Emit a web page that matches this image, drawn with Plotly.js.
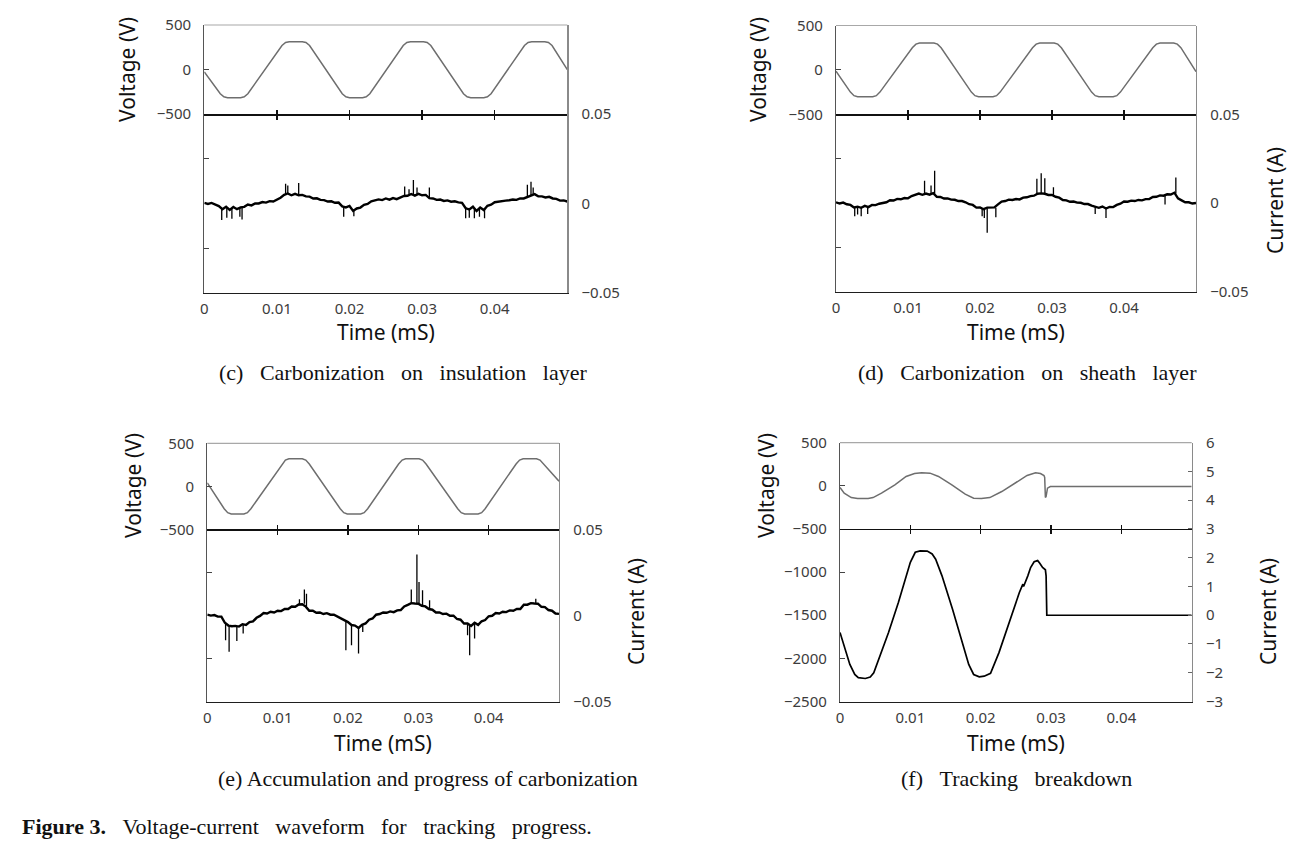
<!DOCTYPE html>
<html><head><meta charset="utf-8">
<script src="https://cdn.plot.ly/plotly-3.0.1.min.js"></script>
<style>html,body{margin:0;padding:0;background:#fff}#chart{width:1298px;height:846px}</style>
</head><body><div id="chart"></div>
<script>
// ---------------- DATA ----------------
const timeTickVals = [0, 0.01, 0.02, 0.03, 0.04];
const timeTickText = ['0', '0.01', '0.02', '0.03', '0.04'];

// common sampling times for current traces (c),(d),(e)
const timeGrid = [0,0.0005,0.001,0.0015,0.002,0.0025,0.003,0.0035,0.004,0.0045,0.005,0.0055,0.006,0.0065,0.007,0.0075,0.008,0.0085,0.009,0.0095,0.01,0.0105,0.011,0.0115,0.012,0.0125,0.013,0.0135,0.014,0.0145,0.015,0.0155,0.016,0.0165,0.017,0.0175,0.018,0.0185,0.019,0.0195,0.02,0.0205,0.021,0.0215,0.022,0.0225,0.023,0.0235,0.024,0.0245,0.025,0.0255,0.026,0.0265,0.027,0.0275,0.028,0.0285,0.029,0.0295,0.03,0.0305,0.031,0.0315,0.032,0.0325,0.033,0.0335,0.034,0.0345,0.035,0.0355,0.036,0.0365,0.037,0.0375,0.038,0.0385,0.039,0.0395,0.04,0.0405,0.041,0.0415,0.042,0.0425,0.043,0.0435,0.044,0.0445,0.045,0.0455,0.046,0.0465,0.047,0.0475,0.048,0.0485,0.049,0.0495,0.05];

// (c) Carbonization on insulation layer
const voltC_t = [0,0.0022,0.0027,0.0032,0.0050,0.0055,0.0060,0.0107,0.0112,0.0117,0.0135,0.0140,0.0145,0.0190,0.0195,0.0200,0.0218,0.0223,0.0228,0.0274,0.0279,0.0284,0.0302,0.0307,0.0312,0.0357,0.0362,0.0367,0.0385,0.0390,0.0395,0.0441,0.0446,0.0451,0.0469,0.0474,0.0479,0.0500];
const voltC_v = [-25,-270,-305,-315,-315,-305,-270,270,305,313,313,305,270,-270,-305,-315,-315,-305,-270,270,305,313,313,305,270,-270,-305,-315,-315,-305,-270,270,305,313,313,305,270,0];
const curC_mA = [0.3,-0.3,0.3,-0.4,-1.5,-3.2,-1.8,-3.6,-2.0,-3.2,-2.2,-1.9,-0.6,-1.1,0.0,0.0,0.8,0.5,1.3,1.1,2.2,3.2,4.8,5.6,4.6,5.4,4.6,4.8,4.0,3.8,2.8,2.9,2.0,1.9,1.1,1.2,0.4,0.5,-1.6,-2.2,-1.4,-4.2,-2.8,-2.3,-0.8,-0.3,1.2,1.6,2.3,1.9,2.8,2.1,3.0,2.4,3.2,4.2,4.3,5.3,4.4,5.4,4.6,4.8,3.0,2.8,2.0,2.2,1.4,1.7,1.0,1.2,0.6,0.3,-2.7,-3.3,-1.8,-4.2,-2.3,-3.7,-1.3,-0.7,0.7,1.0,1.7,1.6,1.8,2.2,2.0,2.8,2.8,3.7,4.3,5.2,4.0,4.0,3.4,3.7,2.8,2.6,1.6,1.7,1.1];
const spikeC_t    = [0.0024,0.0031,0.0038,0.0049,0.0052,0.0112,0.0115,0.0130,0.0192,0.0206,0.0276,0.0282,0.0288,0.0293,0.0310,0.0360,0.0365,0.0372,0.0379,0.0386,0.0445,0.0450,0.0453];
const spikeC_from = [-2.5,-2.0,-2.5,-2.5,-2.2,5.0,5.5,4.8,-1.5,-3.5,4.0,4.5,5.0,4.8,3.5,-2.0,-3.0,-2.5,-3.0,-3.0,3.5,4.5,4.8];
const spikeC_to   = [-9.3,-8.0,-8.5,-7.5,-9.0,11.0,10.0,11.5,-7.4,-7.2,9.5,8.0,13.2,9.0,9.0,-8.3,-8.0,-8.3,-7.5,-8.3,10.5,12.2,9.0];

// (d) Carbonization on sheath layer
const voltD_t = [0,0.0020,0.0025,0.0030,0.0051,0.0056,0.0061,0.0106,0.0111,0.0116,0.0136,0.0141,0.0146,0.0188,0.0193,0.0198,0.0218,0.0223,0.0228,0.0273,0.0278,0.0283,0.0303,0.0308,0.0313,0.0355,0.0360,0.0365,0.0385,0.0390,0.0395,0.0440,0.0445,0.0450,0.0469,0.0474,0.0479,0.0500];
const voltD_v = [-15,-250,-290,-303,-303,-290,-250,250,290,303,303,290,250,-250,-290,-303,-303,-290,-250,250,290,303,303,290,250,-250,-290,-303,-303,-290,-250,250,290,303,303,290,250,-20];
const curD_mA = [0.5,-0.2,0.3,-0.6,-1.0,-2.4,-2.0,-2.6,-1.5,-2.2,-1.0,-1.1,-0.3,0.2,0.5,1.6,1.5,2.4,2.2,2.9,2.7,4.0,4.5,5.4,4.7,5.4,4.8,5.6,3.6,3.5,2.6,2.7,2.0,1.9,1.2,1.2,0.5,-0.6,-1.0,-2.5,-2.4,-3.4,-2.5,-2.6,-2.4,-0.7,0.9,1.2,2.0,1.8,2.3,2.1,3.1,3.3,4.0,4.2,5.3,5.5,5.3,4.6,4.6,3.6,3.1,1.8,1.6,0.8,0.9,0.3,0.2,-0.5,-0.5,-1.4,-1.8,-2.6,-1.9,-3.0,-2.1,-2.2,-1.0,-0.3,0.9,0.8,1.4,1.2,1.8,1.6,2.3,2.3,3.5,3.6,4.4,4.2,5.0,4.9,5.9,2.7,1.6,0.5,0.5,-0.2,0.1];
const spikeD_t    = [0.0026,0.0030,0.0035,0.0044,0.0123,0.0132,0.0137,0.0203,0.0206,0.0210,0.0222,0.0279,0.0285,0.0290,0.0302,0.0360,0.0375,0.0457,0.0472];
const spikeD_from = [-2.2,-2.2,-2.2,-1.8,5.0,5.1,5.3,-3.0,-3.0,-2.8,-2.6,5.0,5.5,5.0,4.2,-2.0,-2.7,4.4,5.5];
const spikeD_to   = [-7.4,-6.4,-7.4,-6.1,12.6,10.0,18.2,-7.4,-8.3,-16.7,-7.9,13.7,16.9,14.0,8.9,-6.1,-8.3,-0.8,14.5];

// (e) Accumulation and progress of carbonization
const voltE_t = [0,0.0024,0.0029,0.0034,0.0052,0.0057,0.0062,0.0106,0.0111,0.0116,0.0135,0.0140,0.0145,0.0189,0.0194,0.0199,0.0218,0.0223,0.0228,0.0272,0.0277,0.0282,0.0301,0.0306,0.0311,0.0356,0.0361,0.0366,0.0385,0.0390,0.0395,0.0439,0.0444,0.0449,0.0468,0.0473,0.0478,0.0500];
const voltE_v = [40,-260,-305,-320,-320,-305,-260,260,305,320,320,305,260,-260,-305,-320,-320,-305,-260,260,305,320,320,305,260,-260,-305,-320,-320,-305,-260,260,305,320,320,305,260,60];
const curE_mA = [0.6,0.0,0.3,-0.6,-0.6,-4.2,-5.8,-6.2,-6.0,-6.4,-5.0,-5.5,-3.8,-3.4,-1.3,-0.2,1.5,1.2,2.2,1.8,2.8,2.6,3.8,3.8,5.3,5.1,6.4,6.6,5.2,2.8,2.8,1.6,1.8,0.9,1.4,0.5,0.5,-0.7,-1.4,-3.0,-3.8,-5.5,-5.8,-7.2,-5.4,-4.6,-2.4,-1.7,0.5,0.9,1.8,1.6,2.4,2.0,3.0,3.2,5.3,6.2,7.2,7.0,6.9,5.7,5.3,3.8,3.4,1.8,1.8,0.9,1.1,-0.1,-0.1,-2.0,-2.4,-4.6,-4.6,-6.0,-4.2,-5.4,-3.3,-2.6,-0.4,-0.1,1.5,1.2,2.2,2.0,3.0,2.8,3.8,3.8,6.3,6.3,7.2,7.0,6.9,5.1,4.9,3.2,2.8,1.2,1.0];
const spikeE_t    = [0.0026,0.0031,0.0042,0.0051,0.0131,0.0138,0.0141,0.0197,0.0205,0.0215,0.0221,0.0290,0.0298,0.0301,0.0306,0.0316,0.0370,0.0373,0.0380,0.0467];
const spikeE_from = [-4.5,-6.0,-6.2,-5.5,6.0,6.8,5.5,-2.7,-5.0,-6.9,-5.8,6.9,7.2,7.0,6.2,4.1,-5.0,-5.6,-4.6,7.3];
const spikeE_to   = [-14.3,-21.0,-14.7,-10.4,9.5,15.1,12.7,-20.1,-17.2,-22.0,-9.5,15.1,35.5,19.5,14.7,8.9,-11.4,-23.0,-13.3,9.8];

// (f) Tracking breakdown
const voltF_t = [0,0.0006,0.0016,0.0025,0.0040,0.0047,0.0059,0.0078,0.0094,0.0106,0.0116,0.0128,0.0140,0.0159,0.0178,0.0190,0.0201,0.0213,0.0230,0.0249,0.0266,0.0278,0.0285,0.0290,0.0291,0.0292,0.0293,0.0295,0.0299,0.0500];
const voltF_v = [-19,-85,-136,-147,-147,-136,-85,12,109,143,151,147,109,12,-97,-143,-147,-136,-66,31,120,151,143,120,97,-136,-124,-27,-8,-8];
const curF_t = [0,0.0007,0.0014,0.0021,0.0026,0.0036,0.0043,0.0048,0.0055,0.0069,0.0083,0.0093,0.0100,0.0107,0.0114,0.0124,0.0131,0.0136,0.0145,0.0160,0.0174,0.0183,0.0190,0.0198,0.0205,0.0214,0.0226,0.0240,0.0255,0.0260,0.0261,0.0267,0.0271,0.0276,0.0281,0.0284,0.0288,0.0292,0.0293,0.0294,0.0500];
const curF_A = [-0.6,-1.19,-1.71,-2.06,-2.17,-2.2,-2.15,-2.0,-1.53,-0.6,0.44,1.26,1.84,2.19,2.24,2.23,2.13,1.95,1.37,0.21,-0.95,-1.71,-2.06,-2.14,-2.12,-2.02,-1.3,-0.26,0.79,1.08,1.0,1.37,1.66,1.86,1.9,1.81,1.66,1.58,1.37,0,0];

const S = '\u00a0\u00a0\u00a0';
const captionTexts = ['(c)'+S+'Carbonization'+S+'on'+S+'insulation'+S+'layer', '(d)'+S+'Carbonization'+S+'on'+S+'sheath'+S+'layer',
                      '(e) Accumulation and progress of carbonization', '(f)'+S+'Tracking'+S+'breakdown'];
const figureCaption = '<b>Figure 3.</b>'+S+'Voltage-current'+S+'waveform'+S+'for'+S+'tracking'+S+'progress.';

// ---------------- LAYOUT CONFIG ----------------
const W = 1298, H = 846;
const sans = 'Noto Sans, DejaVu Sans, sans-serif';
const serif = 'Liberation Serif, Times New Roman, serif';
const tickFont = {family: sans, size: 15, color: '#3c3c3c'};

const panels = [
  {box:[204.3,25,567.3,292.7], vt:voltC_t, vv:voltC_v, ct:timeGrid, cv:curC_mA, cs:0.001,
   sk:[spikeC_t,spikeC_from,spikeC_to],
   yLvals:[500,0,-500], yLtext:['500','0','\u2212500'],
   yR:{range:[-0.05,0.1], vals:[0.05,0,-0.05], text:['0.05','0','\u22120.05'], ticks:''},
   vTitle:[127,70], cTitle:null, tTitle:[386,332], cap:[403,372]},
  {box:[836,25.5,1196,292], vt:voltD_t, vv:voltD_v, ct:timeGrid, cv:curD_mA, cs:0.001,
   sk:[spikeD_t,spikeD_from,spikeD_to],
   yLvals:[500,0,-500], yLtext:['500','0','\u2212500'],
   yR:{range:[-0.05,0.1], vals:[0.05,0,-0.05], text:['0.05','0','\u22120.05'], ticks:''},
   vTitle:[758,70], cTitle:[1275,201], tTitle:[1016,332], cap:[1027,372]},
  {box:[207.3,443.3,559,701.7], vt:voltE_t, vv:voltE_v, ct:timeGrid, cv:curE_mA, cs:0.001,
   sk:[spikeE_t,spikeE_from,spikeE_to],
   yLvals:[500,0,-500], yLtext:['500','0','\u2212500'],
   yR:{range:[-0.05,0.1], vals:[0.05,0,-0.05], text:['0.05','0','\u22120.05'], ticks:''},
   vTitle:[133,486], cTitle:[636,612], tTitle:[383,743], cap:[428,778]},
  {box:[840,442.7,1191.7,701.5], vt:voltF_t, vv:voltF_v, ct:curF_t, cv:curF_A, cs:1,
   sk:null,
   yLvals:[500,0,-500,-1000,-1500,-2000,-2500], yLtext:['500','0','\u2212500','\u22121000','\u22121500','\u22122000','\u22122500'],
   yR:{range:[-3,6], vals:[6,5,4,3,2,1,0,-1,-2,-3], text:['6','5','4','3','2','1','0','\u22121','\u22122','\u22123'], ticks:'inside'},
   vTitle:[766,486], cTitle:[1268,612], tTitle:[1016,743], cap:[1016,778]}
];

const id = n => (n === 1 ? '' : String(n));
const layout = {width:W, height:H, margin:{l:0,r:0,t:0,b:0}, paper_bgcolor:'#fff', plot_bgcolor:'rgba(0,0,0,0)',
  showlegend:false, annotations:[], shapes:[]};
const traces = [];
const VRANGE = [-2500, 500];

panels.forEach((P, i) => {
  const nB = 3*i+1, nM1 = 3*i+2, nM2 = 3*i+3;
  const nL = 3*i+1, nR = 3*i+2, nT = 3*i+3;
  const xd = [P.box[0]/W, P.box[2]/W];
  const yd = [1 - P.box[3]/H, 1 - P.box[1]/H];
  const mid = yd[0] + (yd[1]-yd[0]) * ((-500 - VRANGE[0]) / (VRANGE[1]-VRANGE[0]));
  const xB = 'x'+id(nB), yL = 'y'+id(nL);
  const common = {showgrid:false, zeroline:false, fixedrange:true};

  layout['xaxis'+id(nB)] = Object.assign({domain:xd, range:[0,0.05], anchor:yL,
    tickmode:'array', tickvals:timeTickVals, ticktext:timeTickText, ticks:'',
    showline:true, linecolor:'#1e1e1e', linewidth:1.3, tickfont:tickFont, ticklabelstandoff:2}, common);
  const midAx = {overlaying:xB, anchor:'free', position:mid, range:[0,0.05],
    tickmode:'array', tickvals:timeTickVals.slice(1), showticklabels:false,
    ticklen:4, tickwidth:1.3, tickcolor:'#111'};
  layout['xaxis'+id(nM1)] = Object.assign({}, midAx, {ticks:'outside', showline:true, linecolor:'#111', linewidth:1.3}, common);
  layout['xaxis'+id(nM2)] = Object.assign({}, midAx, {ticks:'inside', showline:false}, common);

  layout['yaxis'+id(nL)] = Object.assign({domain:yd, range:VRANGE, anchor:xB,
    tickmode:'array', tickvals:P.yLvals, ticktext:P.yLtext, ticks:'',
    showline:true, linecolor:'#555', linewidth:1.2, tickfont:tickFont, ticklabelstandoff:9}, common);
  layout['yaxis'+id(nR)] = Object.assign({overlaying:yL, side:'right', anchor:xB, range:P.yR.range,
    tickmode:'array', tickvals:P.yR.vals, ticktext:P.yR.text, ticks:P.yR.ticks, ticklen:4, tickcolor:'#666',
    showline:true, linecolor:'#8a8a8a', linewidth:1.2, tickfont:tickFont, ticklabelstandoff:10}, common);
  layout['yaxis'+id(nT)] = Object.assign({overlaying:yL, side:'left', anchor:xB, range:VRANGE,
    tickmode:'array', tickvals:[0,-1000,-2000], ticks:'inside', ticklen:5, tickcolor:'#444',
    showticklabels:false, showline:false}, common);

  // top spine of the panel frame
  layout.shapes.push({type:'line', xref:xB+' domain', yref:yL+' domain', x0:0, x1:1, y0:1, y1:1,
    line:{color:'#a8a8a8', width:1.2}});

  // dummy traces so the helper axes get drawn
  traces.push({x:[null], y:[null], xaxis:'x'+id(nM1), yaxis:yL, mode:'lines', hoverinfo:'skip'});
  traces.push({x:[null], y:[null], xaxis:'x'+id(nM2), yaxis:yL, mode:'lines', hoverinfo:'skip'});
  traces.push({x:[null], y:[null], xaxis:xB, yaxis:'y'+id(nT), mode:'lines', hoverinfo:'skip'});

  // voltage
  traces.push({x:P.vt, y:P.vv, xaxis:xB, yaxis:yL, mode:'lines', line:{color:'#6e6e6e', width:1.5}, hoverinfo:'skip'});
  // current
  traces.push({x:P.ct, y:P.cv.map(v => v*P.cs), xaxis:xB, yaxis:'y'+id(nR), mode:'lines',
    line:{color:'#000', width:P.cs===1 ? 1.7 : 2.4}, hoverinfo:'skip'});
  // spikes
  if (P.sk) {
    const sx = [], sy = [];
    P.sk[0].forEach((t, k) => { sx.push(t, t, null); sy.push(P.sk[1][k]*P.cs, P.sk[2][k]*P.cs, null); });
    traces.push({x:sx, y:sy, xaxis:xB, yaxis:'y'+id(nR), mode:'lines', line:{color:'#000', width:1.3}, hoverinfo:'skip'});
  }

  const ann = (txt, p, opts) => layout.annotations.push(Object.assign({text:txt, xref:'paper', yref:'paper',
    x:p[0]/W, y:1-p[1]/H, xanchor:'center', yanchor:'middle', showarrow:false}, opts));
  ann('Voltage (V)', P.vTitle, {textangle:-90, font:{family:sans, size:21, color:'#111'}});
  if (P.cTitle) ann('Current (A)', P.cTitle, {textangle:-90, font:{family:sans, size:21, color:'#111'}});
  ann('Time (mS)', P.tTitle, {font:{family:sans, size:21, color:'#111'}});
  ann(captionTexts[i], P.cap, {font:{family:serif, size:22, color:'#111'}});
});

layout.annotations.push({text:figureCaption, xref:'paper', yref:'paper', x:20/W, y:1-826/H,
  xanchor:'left', yanchor:'middle', showarrow:false, font:{family:serif, size:22, color:'#111'}});

Plotly.newPlot('chart', traces, layout, {staticPlot:true, displayModeBar:false});
</script>
</body></html>
